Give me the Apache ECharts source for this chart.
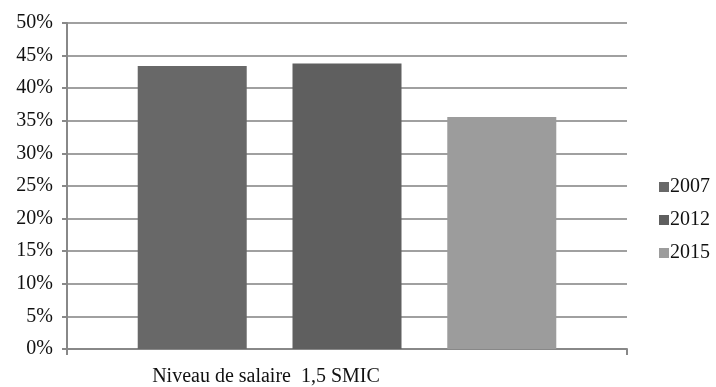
<!DOCTYPE html>
<html>
<head>
<meta charset="utf-8">
<script src="https://cdn.jsdelivr.net/npm/echarts@6/dist/echarts.min.js"></script>
<style>
  html, body { margin: 0; padding: 0; background: #fff; }
  #chart { width: 716px; height: 387px; }
</style>
</head>
<body>
<div id="chart"></div>
<script>
// Share of employees at the wage level, by survey year
const categories = ['Niveau de salaire  1,5 SMIC'];
const years = ['2007', '2012', '2015'];
const values2007 = [43.4];
const values2012 = [43.8];
const values2015 = [35.6];
const yTicks = [0, 5, 10, 15, 20, 25, 30, 35, 40, 45, 50];

const seriesValues = [values2007, values2012, values2015];
const colors = ['#686868', '#5f5f5f', '#9c9c9c'];
const font = '"Liberation Serif", "Times New Roman", serif';

const chart = echarts.init(document.getElementById('chart'));
chart.setOption({
  animation: false,
  textStyle: { fontFamily: font },
  grid: { left: 67, right: 89, top: 23, bottom: 37, containLabel: false },
  legend: {
    orient: 'vertical',
    left: 654,
    top: 172,
    itemWidth: 10,
    itemHeight: 10,
    itemGap: 13,
    icon: 'rect',
    textStyle: { fontFamily: font, fontSize: 20, color: '#111', padding: [0, 0, 0, -4] },
    data: years
  },
  xAxis: {
    type: 'category',
    data: categories,
    axisLine: { lineStyle: { color: '#888', width: 2 } },
    axisTick: { show: true, length: 6, lineStyle: { color: '#888', width: 2 } },
    axisLabel: {
      fontFamily: font, fontSize: 20, color: '#111', margin: 18,
      padding: [0, 162, 0, 0]
    }
  },
  yAxis: {
    type: 'value',
    min: yTicks[0],
    max: yTicks[yTicks.length - 1],
    interval: yTicks[1] - yTicks[0],
    axisLine: { show: true, lineStyle: { color: '#888', width: 2 } },
    axisTick: { show: true, length: 5, lineStyle: { color: '#888', width: 2 } },
    axisLabel: {
      fontFamily: font, fontSize: 20, color: '#111', margin: 14,
      formatter: v => v + '%'
    },
    splitLine: { lineStyle: { color: '#a0a0a0', width: 2 } }
  },
  series: years.map((y, i) => ({
    name: y,
    type: 'bar',
    data: seriesValues[i],
    itemStyle: { color: colors[i] },
    barWidth: 109,
    barGap: '42%'
  }))
});
</script>
</body>
</html>
